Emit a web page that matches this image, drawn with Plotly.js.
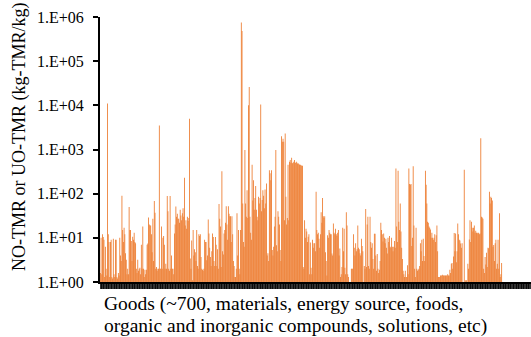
<!DOCTYPE html>
<html>
<head>
<meta charset="utf-8">
<script src="https://cdn.plot.ly/plotly-3.0.1.min.js"></script>
<style>
html,body{margin:0;padding:0;background:#fff;}
#chart{width:531px;height:337px;}
.trace.bars path{shape-rendering:geometricPrecision !important;}
</style>
</head>
<body>
<div id="chart"></div>
<script>
// NO-TMR / UO-TMR values (kg-TMR/kg) for each good, read left to right
const goodsA = [1.6,10,1.5,12,10.5,9,1.3,6.3,2,1.4,11000,12,8,1.3,8,9,1.3,1.2,9.5,1.5,1.3,9,9,1.3,1.2,1.6,1.4,10,4,3,90,15,8,17,12,4.5,3.2,1.5,2.0,1.5,50,15,15,8.5,3,10.6,9,13,8,7.5,2.0,1.6,3.2,1.8,2.0,2.1,1.5,7,2,18,2.0,1.3,1.9,1.5,1.9,7,7.4,29,20,19,19,12,4.7,27,3,68,37,2,2.2,1.8,2.0,2.0,3500,2.0,2,18,2.0,10,11,7,2,2.6,2,88,40,2.0,1.8,88,2,4,2,2.0,1.5];
const goodsB = [12.6,20,51,30,35,27,27,22,43,32,25,36,47,30,230,19,25,16,30,24,28,5000,3.4,2,8.7,1.1,15,4,5.5,4.7,3,15,2.3,2,12,11,12,3.7,2,1.9,1.8,2,9,8,8,3.1,4,26,12.5,6,3.7,2.3,5,12.6,10.5,3,2.3,10.5,7,2.3,5.5,2,58,27,18,2.2,320,5,4.2,12.6,15,22,52,20,9,52,35,31,31,8,31,12,3,2.3,1.3,1.3,2.0,36,4,15,2.0,1.5,15];
const goodsC = [750000,480000,60,8,6.3,980,60,30,120,28,10000,26000,30,13,9,450,70,200,43,80,150,43,30,25,85,60,80,10500,40,72,120,90,47,125,60,170,4,4.5,3,340,290,200,340,5.3,4,6.3,18,30,980,6.8,5,40,30,20,5.3,3,2000,1500,1750,1500,25,2300,85,20,28,450,25,530,580,500,650,490,500,530,580,500,500,530,480,490,470,450,450,440,430,430];
const goodsD = [2.2,2,25,10,16,14,8,10.6,12,1.5,7.8,2.1,1.5,9,6,7.5,7.5,5,110,15,12,13,9.5,6,12,38,22,80,31,28,31,4.7,3,1.4,11.5,10,15,13,12,12,4.4,4,21,13,12,16,12,11,13,15,4,5.7,1.3,1.5,2.2,17,5,16,2.1,1.5,38,19,1.5,1.3,1,1,1,2.0,2,2.0,12,6,4.0,7.5,5,5.5,19,6,5.5,4.5,4,9.5,6.5,5,1,2.3,2];
const goodsE = [45,2.2,20,30,2.3,2,30,8,6,7.5,3.3,2,12.3,12.3,4,1.8,4.3,2,1.6,1.9,3,22,15,12,8.3,12.6,10,7.5,9.5,6,4.4,10,8,11,6.3,6,10,6.3,5,6.3,8.5,6,370,18,8,330,23,15,60,14,6,3.3,1.8,1.5,1.3,1.8,1.3,1.3,2.4,1.5,370,165,160,165,6.5,10,420,19,2,1.3,17,2,1.8,1.9,2,2.3,7.5,5,9,3,9.5,3.9,3,330,160,60,23,22,18,17,15.5,10,13,10,9,10,12,8,11.5,19,5];
const goodsF = [1.3,1.3,1.3,1.4,1.4,1.4,1.45,1.4,1.4,1.4,1.4,1.4,1.4,1.5,1.4,1.4,1.9,1.6,2.6,2.7,2,3.8,12.8,5,12.5,2.8,5,21,12,9,8.7,7.4,6,7.5,1,1,350,1,1.1,1.1,1,2.6,2,9.2,25,8,23,17,14,17,19,13,14.5,13,13,12.5,13,12,12.5,1800,30,29,27,2,1.6,3.7,2.5,4.6,2.2,6,5.8,110,60,85,80,70,6.3,6.9,3,7.5,9,2,2.6,9,2,36,1.3,1.5,2.7];

const yTickVals = [1,10,100,1000,10000,100000,1000000];
const yTickText = ['1.E+00','1.E+01','1.E+02','1.E+03','1.E+04','1.E+05','1.E+06'];
const yTitle = 'NO-TMR or UO-TMR (kg-TMR/kg)';
const xTitleLines = ['Goods (~700, materials, energy source, foods,', 'organic and inorganic compounds, solutions, etc)'];

const values = [].concat(goodsA, goodsB, goodsC, goodsD, goodsE, goodsF);
const idx = values.map((v, i) => i);
const nCats = values.length * 431 / 402;

const fontFam = '"Liberation Serif", "Times New Roman", serif';

const trace = {
  type: 'bar',
  x: idx,
  y: values,
  width: 1.2,
  marker: {color: '#ED7D31', line: {width: 0}},
  hoverinfo: 'none'
};

const layout = {
  width: 531, height: 337,
  margin: {l: 100, r: 0, t: 17, b: 55, pad: 0},
  paper_bgcolor: '#ffffff',
  plot_bgcolor: '#ffffff',
  bargap: 0,
  showlegend: false,
  font: {family: fontFam, color: '#000', size: 16},
  xaxis: {
    type: 'linear',
    range: [-0.5, nCats - 0.5],
    showline: true, linecolor: '#000', linewidth: 1.5,
    ticks: 'outside', ticklen: 5, tickwidth: 0.8, tickcolor: '#000',
    tickmode: 'linear', tick0: 0, dtick: 1,
    showticklabels: false, showgrid: false, zeroline: false
  },
  yaxis: {
    type: 'log',
    range: [0, 6],
    showline: true, linecolor: '#000', linewidth: 2,
    ticks: 'outside', ticklen: 5, tickwidth: 2, tickcolor: '#000',
    tickmode: 'array', tickvals: yTickVals, ticktext: yTickText,
    tickfont: {family: fontFam, size: 16, color: '#000'},
    ticklabelstandoff: 6,
    showgrid: false, zeroline: false
  },
  annotations: [
    {
      text: yTitle, xref: 'paper', yref: 'paper',
      x: (19 - 100) / 431, y: (282 - 137) / 265,
      xanchor: 'center', yanchor: 'middle', textangle: -90, showarrow: false,
      font: {family: fontFam, size: 18, color: '#000'}
    },
    {
      text: xTitleLines[0], xref: 'paper', yref: 'paper',
      x: (102 - 100) / 431, y: (282 - 304) / 265,
      xanchor: 'left', yanchor: 'middle', align: 'left', showarrow: false,
      font: {family: fontFam, size: 19.5, color: '#000'}
    },
    {
      text: xTitleLines[1], xref: 'paper', yref: 'paper',
      x: (102 - 100) / 431, y: (282 - 326) / 265,
      xanchor: 'left', yanchor: 'middle', align: 'left', showarrow: false,
      font: {family: fontFam, size: 19.5, color: '#000'}
    }
  ]
};

Plotly.newPlot('chart', [trace], layout, {staticPlot: true, displayModeBar: false});
</script>
</body>
</html>
